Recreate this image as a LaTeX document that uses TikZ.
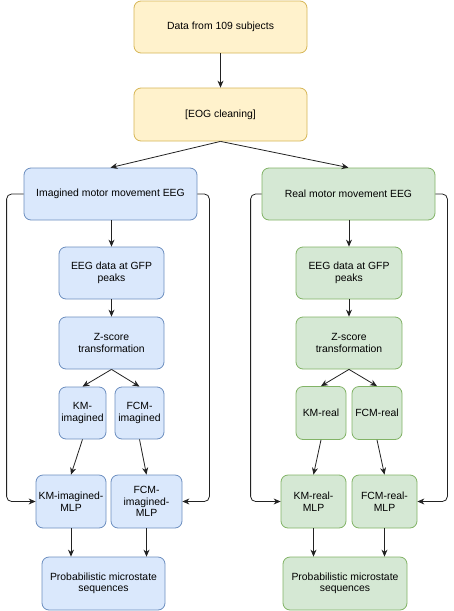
\documentclass[tikz,border=0pt]{standalone}
\usepackage{fontspec}
\setmainfont{Liberation Sans}
\usetikzlibrary{arrows.meta}
\definecolor{yfill}{HTML}{FFF2CC}\definecolor{ydraw}{HTML}{D6B656}
\definecolor{bfill}{HTML}{DAE8FC}\definecolor{bdraw}{HTML}{6C8EBF}
\definecolor{gfill}{HTML}{D5E8D4}\definecolor{gdraw}{HTML}{82B366}
\definecolor{linec}{HTML}{222222}
\begin{document}
\begin{tikzpicture}[x=1pt,y=-1pt,
  box/.style={rectangle,rounded corners=7pt,line width=0.8pt,inner sep=0pt,align=center,
    font=\fontsize{10.4}{11.5}\selectfont,text=black},
  ybox/.style={box,fill=yfill,draw=ydraw},
  bbox/.style={box,fill=bfill,draw=bdraw},
  gbox/.style={box,fill=gfill,draw=gdraw},
  arr/.style={draw=linec,line width=0.8pt,-{Stealth[length=7pt,width=6pt]}},
  loop/.style={arr,rounded corners=5pt}]
\useasboundingbox (0,0) rectangle (454,611);
% top
\node[ybox,minimum width=173pt,minimum height=52pt] (data) at (220.5,27) {Data from 109 subjects};
\node[ybox,minimum width=173pt,minimum height=53pt] (eog) at (220.5,114.5) {[EOG cleaning]};
% imagined branch
\node[bbox,minimum width=173pt,minimum height=52pt] (img) at (110.5,194) {Imagined motor movement EEG};
\node[bbox,minimum width=105pt,minimum height=52pt] (eegi) at (111.5,273) {EEG data at GFP\\peaks};
\node[bbox,minimum width=105pt,minimum height=52pt] (zsi) at (111.5,343) {Z-score\\transformation};
\node[bbox,minimum width=47pt,minimum height=52pt] (kmi) at (82.5,413) {KM-\\imagined};
\node[bbox,minimum width=49pt,minimum height=52pt] (fcmi) at (139.5,413) {FCM-\\imagined};
\node[bbox,minimum width=70pt,minimum height=53pt] (kmimlp) at (71,501.5) {KM-imagined-\\MLP};
\node[bbox,minimum width=71pt,minimum height=53pt] (fcmimlp) at (146.5,501.5) {FCM-\\imagined-\\MLP};
\node[bbox,minimum width=123pt,minimum height=53pt] (probi) at (103.5,583.5) {Probabilistic microstate\\sequences};
% real branch
\node[gbox,minimum width=173pt,minimum height=52pt] (real) at (348.5,194) {Real motor movement EEG};
\node[gbox,minimum width=106pt,minimum height=52pt] (eegr) at (349,273) {EEG data at GFP\\peaks};
\node[gbox,minimum width=106pt,minimum height=52pt] (zsr) at (349,343) {Z-score\\transformation};
\node[gbox,minimum width=50pt,minimum height=53pt] (kmr) at (321,413) {KM-real};
\node[gbox,minimum width=50pt,minimum height=53pt] (fcmr) at (377,413) {FCM-real};
\node[gbox,minimum width=65pt,minimum height=53pt] (kmrmlp) at (313.5,501.5) {KM-real-\\MLP};
\node[gbox,minimum width=65pt,minimum height=53pt] (fcmrmlp) at (384.5,501.5) {FCM-real-\\MLP};
\node[gbox,minimum width=124pt,minimum height=53pt] (probr) at (345,583.5) {Probabilistic microstate\\sequences};
% connectors
\draw[arr] (data) -- (eog);
\draw[arr] (eog.south) -- (img.north);
\draw[arr] (eog.south) -- (real.north);
\draw[arr] (img.south -| eegi.north) -- (eegi.north);
\draw[arr] (eegi) -- (zsi);
\draw[arr] (zsi.south) -- (kmi.north);
\draw[arr] (zsi.south) -- (fcmi.north);
\draw[arr] (kmi.south) -- (kmimlp.north);
\draw[arr] (fcmi.south) -- (fcmimlp.north);
\draw[arr] (kmimlp.south) -- (kmimlp.south |- probi.north);
\draw[arr] (fcmimlp.south) -- (fcmimlp.south |- probi.north);
\draw[loop] (img.west) -- ++(-17,0) |- (kmimlp.west);
\draw[loop] (img.east) -- ++(12,0) |- (fcmimlp.east);
\draw[arr] (real.south -| eegr.north) -- (eegr.north);
\draw[arr] (eegr) -- (zsr);
\draw[arr] (zsr.south) -- (kmr.north);
\draw[arr] (zsr.south) -- (fcmr.north);
\draw[arr] (kmr.south) -- (kmrmlp.north);
\draw[arr] (fcmr.south) -- (fcmrmlp.north);
\draw[arr] (kmrmlp.south) -- (kmrmlp.south |- probr.north);
\draw[arr] (fcmrmlp.south) -- (fcmrmlp.south |- probr.north);
\draw[loop] (real.west) -- ++(-11,0) |- (kmrmlp.west);
\draw[loop] (real.east) -- ++(12,0) |- (fcmrmlp.east);
\end{tikzpicture}
\end{document}
